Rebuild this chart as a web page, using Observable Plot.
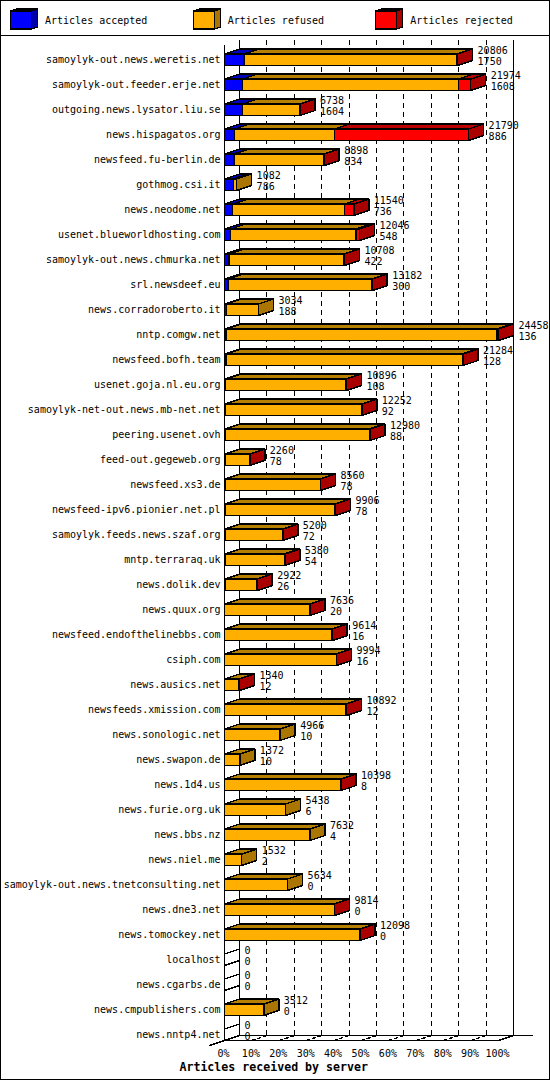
<!DOCTYPE html>
<html>
<head>
<meta charset="utf-8">
<script src="https://cdn.jsdelivr.net/npm/d3@7"></script>
<script src="https://cdn.jsdelivr.net/npm/@observablehq/plot@0.6"></script>
<style>
html,body{margin:0;padding:0;background:#fff}
#frame{box-sizing:border-box;width:550px;height:1080px;border:1px solid #000;background:#fff;overflow:hidden;font-family:"DejaVu Sans Mono",monospace;font-size:10px;color:#000}
#legend{height:34px;border-bottom:1px solid #000;display:flex;box-sizing:content-box}
#legend .item{width:183px;display:flex;align-items:flex-start;padding:7px 0 0 9px;box-sizing:border-box}
#legend svg{display:block;margin-right:6px}
#legend span{line-height:22px;margin-top:2px}
#chart svg{display:block}
</style>
</head>
<body>
<div id="frame"><div id="legend"></div><div id="chart"></div></div>
<script>
const hosts = ["samoylyk-out.news.weretis.net","samoylyk-out.feeder.erje.net","outgoing.news.lysator.liu.se","news.hispagatos.org","newsfeed.fu-berlin.de","gothmog.csi.it","news.neodome.net","usenet.blueworldhosting.com","samoylyk-out.news.chmurka.net","srl.newsdeef.eu","news.corradoroberto.it","nntp.comgw.net","newsfeed.bofh.team","usenet.goja.nl.eu.org","samoylyk-net-out.news.mb-net.net","peering.usenet.ovh","feed-out.gegeweb.org","newsfeed.xs3.de","newsfeed-ipv6.pionier.net.pl","samoylyk.feeds.news.szaf.org","mntp.terraraq.uk","news.dolik.dev","news.quux.org","newsfeed.endofthelinebbs.com","csiph.com","news.ausics.net","newsfeeds.xmission.com","news.sonologic.net","news.swapon.de","news.1d4.us","news.furie.org.uk","news.bbs.nz","news.niel.me","samoylyk-out.news.tnetconsulting.net","news.dne3.net","news.tomockey.net","localhost","news.cgarbs.de","news.cmpublishers.com","news.nntp4.net"];
const totals = [20806,21974,6738,21790,8898,1082,11540,12046,10708,13182,3034,24458,21284,10896,12252,12980,2260,8560,9906,5200,5380,2922,7636,9614,9994,1340,10892,4966,1372,10398,5438,7632,1532,5634,9814,12098,0,0,3512,0];
const accepted = [1750,1608,1604,886,834,786,736,548,422,300,188,136,128,108,92,88,78,78,78,72,54,26,20,16,16,12,12,10,10,8,6,4,2,0,0,0,0,0,0,0];
const rejected = [100,1090,40,11980,60,0,830,300,20,30,0,130,60,60,20,50,10,10,50,10,40,10,10,10,10,40,40,0,0,10,0,0,0,0,10,10,0,0,0,0];
const seriesNames = ["Articles accepted","Articles refused","Articles rejected"];
const frontColors = ["#0000ff","#ffaf00","#ff0000"];
const topColors = ["#0000bb","#b88000","#bb0000"];
const sideColors = ["#0000aa","#aa7500","#aa0000"];
const percentTicks = [0,10,20,30,40,50,60,70,80,90,100];
const chartTitle = "Articles received by server";

const maxTotal = d3.max(totals);
const pct = v => v / maxTotal * 100;
// one percent is 2.74px, one row is 25px; the 3D depth is 15px across and 5px up
const depthX = 15 / 2.74, depthY = 5 / 25;
const halfUp = 5.5 / 25, halfDown = 6 / 25;

const polys = [];
let pid = 0;
function poly(points, color) {
  const id = pid++;
  for (const [x, y] of points) polys.push({id, x, y, color});
}
hosts.forEach((h, i) => {
  const a = accepted[i], r = rejected[i], t = totals[i];
  const up = i - halfUp, down = i + halfDown;
  if (t === 0) {
    poly([[0, up], [depthX, up - depthY]], "none");
    poly([[0, down], [depthX, down - depthY]], "none");
    return;
  }
  const edges = [0, a, t - r, t].map(pct);
  let last = 0;
  for (let s = 0; s < 3; s++) {
    const x0 = edges[s], x1 = edges[s + 1];
    if (x1 <= x0) continue;
    last = s;
    poly([[x0, up], [x0 + depthX, up - depthY], [x1 + depthX, up - depthY], [x1, up]], topColors[s]);
    poly([[x0, up], [x1, up], [x1, down], [x0, down]], frontColors[s]);
  }
  const e = edges[3];
  poly([[e, up], [e + depthX, up - depthY], [e + depthX, down - depthY], [e, down]], sideColors[last]);
});

const rows = hosts.map((host, i) => ({host, i, t: totals[i], a: accepted[i]}));
const baseFront = 39.24, baseBack = baseFront - depthY;
const topBack = -0.76;

const gridDash = percentTicks.slice(1, -1);
const solid = (pts) => Plot.line(pts, {x: d => d[0], y: d => d[1], stroke: "#000"});

const chart = Plot.plot({
  width: 548,
  height: 1042,
  marginLeft: 223,
  marginRight: 51,
  marginTop: 0,
  marginBottom: 38,
  x: {domain: [0, 100]},
  y: {domain: [0, 39], range: [23, 998], axis: null},
  color: {type: "identity"},
  style: {fontFamily: '"DejaVu Sans Mono",monospace', fontSize: "10px", background: "#fff", color: "#000", shapeRendering: "crispEdges", overflow: "visible"},
  marks: [
    // dashed grid on the back wall and on the floor
    Plot.ruleX(gridDash, {x: d => d + depthX, y1: topBack, y2: baseBack, stroke: "#000", strokeDasharray: "5,4"}),
    Plot.line(gridDash.flatMap(d => [{d, x: d, y: baseFront}, {d, x: d + depthX, y: baseBack}]), {x: "x", y: "y", z: "d", stroke: "#000", strokeDasharray: "3,3", strokeWidth: 1.5}),
    // walls and floor
    solid([[depthX, topBack], [depthX, baseBack]]),
    solid([[100 + depthX, topBack], [100 + depthX, baseBack]]),
    solid([[depthX, baseBack], [112.3, baseBack]]),
    solid([[0, baseFront], [100, baseFront], [100 + depthX, baseBack]]),
    solid([[-depthX, baseFront + depthY], [depthX, baseBack]]),
    // bars
    Plot.line(polys, {x: "x", y: "y", z: "id", fill: "color", stroke: "#000", curve: "linear-closed"}),
    solid([[0, -0.56], [0, baseFront]]),
    // labels
    Plot.text(rows, {x: () => 0, y: "i", text: "host", textAnchor: "end", dx: -4, fill: "#000"}),
    Plot.text(rows, {x: d => pct(d.t) + depthX, y: "i", text: d => String(d.t), textAnchor: "start", dx: 5, dy: -9, fill: "#000"}),
    Plot.text(rows, {x: d => pct(d.t) + depthX, y: "i", text: d => String(d.a), textAnchor: "start", dx: 5, dy: 2, fill: "#000"}),
    Plot.axisX({ticks: percentTicks, tickFormat: d => d + "%", tickSize: 0, tickPadding: 9, label: null, fontSize: 10, dx: -1}),
    Plot.text([chartTitle], {x: () => 17.95, y: () => 40.32, fontWeight: "bold", fontSize: 11.6, fill: "#000"})
  ]
});
document.getElementById("chart").appendChild(chart);

// legend swatches
const legend = document.getElementById("legend");
seriesNames.forEach((name, s) => {
  const w = 21, h = 18, dx = 6, dy = 2;
  const cube = [];
  const add = (id, pts, color) => pts.forEach(([x, y]) => cube.push({id, x, y, color}));
  add(0, [[0, 0], [dx, -dy], [w + dx, -dy], [w, 0]], topColors[s]);
  add(1, [[w, 0], [w + dx, -dy], [w + dx, h - dy], [w, h]], sideColors[s]);
  add(2, [[0, 0], [w, 0], [w, h], [0, h]], frontColors[s]);
  const swatch = Plot.plot({
    width: 29, height: 23, margin: 0, axis: null,
    x: {domain: [0, 29], range: [0, 29]},
    y: {domain: [-2.5, 20.5], range: [0, 23]},
    color: {type: "identity"},
    style: {shapeRendering: "crispEdges", background: "none"},
    marks: [Plot.line(cube, {x: "x", y: "y", z: "id", fill: "color", stroke: "#000", curve: "linear-closed"})]
  });
  const item = document.createElement("div");
  item.className = "item";
  item.appendChild(swatch);
  const label = document.createElement("span");
  label.textContent = name;
  item.appendChild(label);
  legend.appendChild(item);
});
</script>
</body>
</html>
